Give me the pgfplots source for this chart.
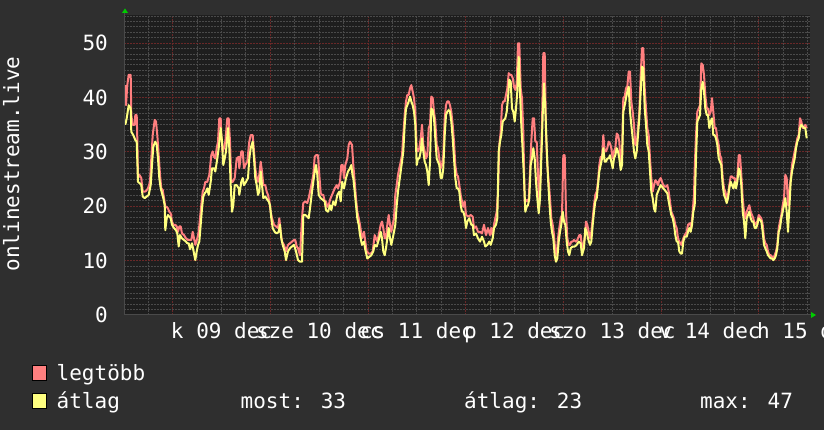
\documentclass[border=0pt]{standalone}
\usepackage{fontspec}
\usepackage{pgfplots}
\pgfplotsset{compat=1.18}
\newfontfamily\mono{DejaVu Sans Mono}
\definecolor{bg}{HTML}{2F2F2F}
\definecolor{canvas}{HTML}{1E1E1E}
\definecolor{mingrid}{HTML}{4A4A4A}
\definecolor{majgrid}{HTML}{6A2828}
\definecolor{axisc}{HTML}{4A4A4A}
\definecolor{maxc}{HTML}{FF7F7F}
\definecolor{avgc}{HTML}{FFFF80}
\definecolor{arrowc}{HTML}{00CC00}
\newcommand{\tickfont}{\mono\fontsize{21}{24}\selectfont}
\begin{document}
\begin{tikzpicture}[x=1pt,y=1pt]
\path[use as bounding box] (0,0) rectangle (824,430);
\fill[bg] (0,0) rectangle (824,430);
\begin{axis}[
  at={(124pt,115pt)}, anchor=south west,
  width=686pt, height=300pt, scale only axis,
  xmin=0, xmax=686, ymin=0, ymax=55.2,
  axis background/.style={fill=canvas},
  axis line style={draw=none},
  grid=both,
  major grid style={draw=majgrid, dash pattern=on 1.5pt off 1.5pt, line width=1pt},
  minor grid style={draw=mingrid, dash pattern=on 1.5pt off 1.5pt, line width=1pt},
  xtick={48.7,146.4,244.1,341.8,439.5,537.2,634.9},
  xticklabels={},
  minor xtick={24.275,48.7,73.125,97.55,121.975,146.4,170.825,195.25,219.675,244.1,268.525,292.95,317.375,341.8,366.225,390.65,415.075,439.5,463.925,488.35,512.775,537.2,561.625,586.05,610.475,634.9,659.325,683.75},
  extra x ticks={97.55,195.25,292.95,390.65,488.35,586.05,683.75},
  extra x tick labels={k 09 dec,sze 10 dec,cs 11 dec,p 12 dec,szo 13 dec,v 14 dec,h 15 dec},
  extra x tick style={grid=none},
  ytick={0,10,20,30,40,50},
  minor ytick={0,1,...,55},
  major tick length=0pt, minor tick length=0pt,
  /pgf/number format/assume math mode=true,
  xticklabel style={font=\tickfont, text=white, anchor=base, inner sep=0pt, yshift=-23.3pt},
  yticklabel style={font=\tickfont, text=white, anchor=east, inner sep=0pt, xshift=-16pt},
]
\addplot[maxc, line width=2pt, line join=round] coordinates {
(1.3,42.3)(2.0,38.6)(3.3,42.3)(4.7,44.2)(6.7,44.2)(7.3,36.8)(8.7,35.0)(10.7,35.0)(11.3,36.8)(12.7,36.8)(13.3,32.5)(14.0,25.2)(15.3,25.8)(17.3,25.2)(18.7,22.7)(20.7,22.7)(22.0,22.8)(24.0,23.3)(26.0,24.5)(27.3,28.8)(28.7,33.1)(30.7,35.9)(32.0,35.6)(33.3,33.1)(34.7,29.4)(36.0,25.8)(37.3,23.3)(38.7,23.0)(40.0,21.5)(41.3,19.9)(42.7,19.9)(44.0,19.6)(45.3,19.0)(46.7,18.7)(48.0,17.2)(49.3,16.6)(51.3,16.6)(52.7,16.3)(54.0,15.3)(55.3,16.3)(56.7,16.3)(58.0,15.0)(60.0,14.7)(62.0,14.1)(64.0,13.8)(66.0,13.8)(67.3,13.8)(68.7,15.3)(70.0,14.1)(71.3,12.9)(73.3,14.1)(74.7,15.3)(76.0,17.8)(77.3,20.2)(78.7,22.7)(80.0,23.3)(81.3,24.5)(83.3,24.5)(85.3,25.8)(87.3,29.4)(88.7,30.1)(90.0,29.1)(91.3,28.8)(92.7,30.7)(94.0,31.9)(95.3,36.2)(96.7,36.2)(97.3,33.1)(98.7,30.1)(100.0,30.7)(101.3,31.9)(103.3,36.2)(104.7,36.2)(106.0,31.9)(107.3,24.5)(108.7,24.5)(110.7,25.2)(112.7,28.8)(114.7,29.1)
(115.3,27.0)(117.3,30.1)(118.7,30.1)(120.0,27.0)(121.3,27.6)(123.3,28.2)(125.3,31.9)(126.7,33.1)(128.7,33.1)(130.0,30.1)(131.3,27.0)(132.7,25.2)(134.0,24.5)(135.3,25.8)(136.7,28.2)(138.0,26.4)(139.3,23.9)(141.3,23.9)(142.7,22.7)(144.0,22.1)(145.3,20.9)(146.7,19.0)(148.0,17.8)(150.0,16.6)(152.0,16.3)(154.0,16.0)(155.3,17.8)(156.7,15.3)(158.0,13.5)(160.0,12.9)(162.0,11.7)(164.0,12.9)(166.0,13.2)(168.0,13.5)(170.0,13.8)(171.3,13.8)(172.7,12.6)(174.0,12.3)(176.0,11.0)(178.0,17.8)(179.3,20.6)(181.3,20.9)(183.3,20.6)(184.7,21.5)(186.7,23.3)(188.0,24.5)(189.3,25.8)(190.7,29.1)(192.0,29.4)(194.0,29.4)(195.3,25.8)(196.7,22.4)(198.0,22.1)(199.3,22.1)(200.7,20.9)(202.0,20.9)(203.3,19.9)(204.7,20.2)(206.0,21.2)(207.3,21.8)(208.7,22.4)(210.7,23.3)(212.7,23.9)(214.0,23.3)(216.0,24.5)(217.3,27.6)(218.7,27.6)(220.0,25.2)(221.3,27.6)(223.3,28.8)(224.7,31.3)(226.0,31.9)(228.0,31.3)
(229.3,27.6)(230.7,24.5)(232.0,21.5)(233.3,19.0)(234.7,17.8)(236.0,16.6)(238.0,14.1)(240.0,15.3)(241.3,13.5)(242.7,11.7)(244.7,11.3)(246.7,11.3)(248.7,11.7)(250.7,14.7)(252.0,14.1)(253.3,13.5)(255.3,15.3)(256.7,16.6)(258.0,17.2)(259.3,16.0)(260.7,14.1)(262.0,14.1)(263.3,16.6)(264.7,18.4)(266.0,16.6)(267.3,15.3)(268.7,16.6)(270.0,17.8)(271.3,22.1)(272.7,23.9)(274.0,25.8)(275.3,27.0)(276.7,28.2)(278.0,29.4)(279.3,33.1)(280.7,36.8)(282.0,39.3)(283.3,40.5)(284.7,40.5)(286.0,41.7)(287.3,42.3)(288.7,41.1)(290.0,39.9)(291.3,37.4)(292.7,30.7)(294.0,30.1)(295.3,30.7)(296.7,32.5)(298.0,35.0)(299.3,31.3)(300.7,30.1)(302.0,28.8)(303.3,29.4)(304.7,34.4)(306.0,35.0)(307.3,40.2)(308.7,39.9)(310.0,37.4)(311.3,35.6)(312.7,31.3)(314.0,30.7)(315.3,28.8)(316.7,27.0)(318.0,27.6)(319.3,29.4)(320.7,36.2)(322.0,38.6)(323.3,39.3)(324.7,39.3)(326.0,38.6)(327.3,37.4)(328.7,35.0)(330.0,31.9)(331.3,27.6)(332.7,25.8)(334.0,25.5)(335.3,23.9)(336.7,22.1)(338.0,20.9)(339.3,19.9)(340.7,20.9)(342.0,18.4)
(344.7,18.1)(346.7,18.4)(348.7,18.1)(350.0,16.0)(352.0,16.3)(354.0,15.3)(356.0,15.3)(358.0,15.0)(360.0,16.6)(362.0,14.7)(364.0,16.0)(366.0,14.7)(367.3,16.0)(368.7,14.7)(370.0,16.6)(371.3,17.8)(372.7,19.0)(374.0,22.7)(375.3,31.3)(376.7,33.7)(378.0,38.6)(379.3,39.3)(380.7,39.3)(382.0,40.5)(383.3,41.7)(384.7,44.5)(386.0,44.2)(387.3,44.2)(388.7,43.6)(390.0,42.0)(391.3,41.4)(392.7,42.6)(394.0,50.0)(395.3,50.0)(396.7,41.7)(398.0,39.9)(399.3,33.7)(400.7,20.9)(402.0,20.9)(403.3,21.2)(404.7,20.9)(406.0,26.4)(407.3,31.9)(408.7,36.2)(410.0,36.2)(411.3,31.9)(412.7,31.9)(414.0,25.8)(415.3,20.2)(416.7,27.6)(418.0,35.0)(419.3,48.2)(420.7,48.2)(422.0,33.7)(423.3,27.6)(424.7,24.5)(426.0,21.5)(427.3,17.8)(428.7,16.6)(430.0,14.7)(431.3,11.7)(432.7,11.0)(434.0,14.1)(435.3,16.0)(436.7,17.8)(438.0,18.4)(439.3,29.4)(440.7,29.4)(442.0,19.0)(443.3,14.1)(444.7,12.9)(446.0,12.9)(447.3,13.5)(448.7,13.5)(450.0,13.8)(452.0,13.5)(453.3,13.8)(455.3,14.7)(456.7,14.7)
(458.0,12.3)(459.3,12.9)(460.7,14.1)(462.0,17.2)(463.3,16.6)(464.7,15.3)(466.0,14.1)(467.3,15.3)(468.7,17.8)(470.0,20.2)(471.3,22.1)(472.7,22.7)(474.0,24.5)(475.3,27.6)(476.7,29.1)(478.0,28.8)(479.3,33.1)(480.7,30.1)(482.0,30.1)(483.3,30.7)(484.7,31.9)(486.0,31.6)(487.3,30.7)(488.7,28.8)(490.0,30.1)(491.3,30.7)(492.7,33.4)(494.0,33.1)(495.3,31.9)(496.7,27.6)(498.0,29.4)(499.3,39.9)(500.7,40.2)(502.0,41.7)(503.3,42.0)(504.7,44.8)(506.0,44.8)(507.3,39.3)(508.7,37.4)(510.0,35.0)(511.3,31.3)(512.7,31.3)(514.0,34.4)(515.3,37.4)(516.7,44.2)(518.0,49.1)(519.3,49.1)(520.7,41.7)(522.0,38.0)(523.3,34.4)(524.7,33.1)(526.0,28.8)(527.3,25.2)(528.7,22.7)(530.0,23.9)(531.3,24.8)(532.7,24.5)(534.0,23.9)(535.3,24.8)(536.7,25.2)(538.0,24.5)(539.3,23.9)(540.7,23.6)(542.0,23.6)(543.3,23.9)(544.7,22.7)(546.0,20.9)(547.3,19.0)(548.7,18.4)(550.0,17.8)(551.3,16.6)(552.7,16.0)(554.0,14.1)(555.3,13.5)(557.3,12.9)(559.3,14.1)(560.7,14.7)(562.7,15.3)(564.0,16.6)(566.0,16.9)(567.3,16.0)(568.7,19.0)(570.0,22.1)(570.7,27.0)
(572.0,33.1)(573.3,37.4)(574.7,38.0)(576.0,38.6)(577.3,46.3)(578.7,46.0)(580.0,44.2)(581.3,40.5)(582.7,38.0)(584.0,38.0)(585.3,36.8)(586.7,37.4)(588.0,39.9)(589.3,37.4)(590.7,34.4)(592.0,34.4)(593.3,32.5)(594.7,31.3)(596.0,29.4)(597.3,28.8)(598.7,25.2)(600.0,23.3)(601.3,22.7)(602.7,21.5)(604.0,22.1)(605.3,23.9)(606.7,25.5)(608.0,25.5)(609.3,25.2)(610.7,25.2)(612.0,23.9)(613.3,25.2)(614.7,29.4)(616.0,29.4)(617.3,25.8)(618.7,21.5)(620.0,19.0)(621.3,17.8)(622.7,19.0)(624.0,19.6)(625.3,20.2)(626.7,19.0)(628.0,18.4)(629.3,17.8)(630.7,16.6)(632.0,16.9)(633.3,17.2)(634.7,18.4)(636.0,18.1)(637.3,17.8)(638.7,16.6)(640.0,14.1)(641.3,13.2)(642.7,12.9)(644.0,11.7)(645.3,11.0)(646.7,11.0)(648.0,10.7)(649.3,10.4)(650.7,11.0)(652.0,11.7)(653.3,12.9)(654.7,16.0)(656.0,17.2)(657.3,18.4)(658.7,20.2)(660.0,21.5)(661.3,25.8)(662.7,25.2)(664.0,20.2)(665.3,22.7)(666.7,25.2)(668.0,27.6)(669.3,28.8)(670.7,30.1)(672.0,31.3)(673.3,32.5)(674.7,33.1)(676.0,36.2)(677.3,35.6)(678.7,34.4)(680.0,34.4)(681.3,35.0)(682.7,34.4)
};
\addplot[avgc, line width=2pt, line join=round] coordinates {
(1.3,35.0)(2.7,36.2)(4.7,38.6)(6.7,38.0)(7.3,33.7)(9.3,33.1)(11.3,32.2)(12.7,31.9)(14.0,24.5)(16.0,24.2)(17.3,23.9)(18.7,21.8)(20.7,21.5)(22.7,21.8)(24.7,22.1)(26.7,23.9)(28.0,27.6)(29.3,31.0)(31.3,31.9)(32.7,31.3)(34.0,28.8)(35.3,25.2)(36.7,23.3)(38.0,22.4)(39.3,21.5)(40.7,20.2)(41.3,15.6)(42.7,17.8)(44.0,18.4)(45.3,18.1)(46.7,17.8)(48.0,16.6)(50.0,16.0)(52.0,15.6)(53.3,15.0)(54.7,12.6)(56.0,14.7)(58.0,14.1)(60.0,13.8)(62.0,13.5)(63.3,13.2)(64.7,13.2)(66.0,12.1)(68.0,13.2)(69.3,12.0)(71.3,10.1)(72.7,11.7)(74.0,12.9)(75.3,13.5)(76.7,16.6)(78.0,19.6)(79.3,21.8)(80.7,22.4)(82.0,22.7)(83.3,23.3)(84.7,22.1)(86.7,24.5)(88.0,27.0)(90.0,27.0)(91.3,26.4)(93.3,28.8)(94.7,30.7)(96.7,34.4)(98.0,31.9)(99.3,27.6)(100.7,28.8)(102.0,30.1)(104.0,34.4)(105.3,30.7)(106.7,23.9)(108.0,19.0)(109.3,20.2)(110.7,23.9)(112.7,23.9)(114.7,23.3)
(115.3,22.1)(117.3,24.5)(118.7,25.2)(120.0,23.9)(122.0,24.5)(124.0,25.2)(125.3,28.8)(126.7,30.7)(128.7,31.9)(130.0,28.8)(131.3,25.2)(132.7,23.9)(134.0,22.1)(135.3,22.7)(136.7,26.4)(138.0,23.9)(139.3,21.5)(141.3,21.8)(143.3,21.2)(144.7,20.9)(146.0,20.2)(147.3,17.8)(148.7,16.0)(150.7,15.3)(152.7,15.0)(154.7,15.3)(156.0,16.6)(157.3,14.1)(158.7,12.9)(160.7,11.7)(162.0,10.1)(164.0,11.7)(166.0,12.3)(168.0,12.6)(170.0,12.9)(172.0,11.7)(174.0,10.1)(176.0,9.8)(178.0,9.8)(179.3,18.4)(181.3,18.4)(183.3,18.1)(184.7,17.8)(186.0,19.6)(188.0,22.7)(189.3,24.5)(190.7,26.4)(192.0,27.6)(193.3,25.8)(194.7,22.1)(196.7,21.5)(198.7,21.2)(200.7,20.9)(202.0,19.3)(204.0,19.0)(206.0,20.2)(207.3,19.3)(209.3,20.9)(211.3,20.2)(213.3,22.1)(215.3,22.7)(216.7,20.9)(218.0,24.5)(220.0,23.3)(222.0,25.2)(224.0,26.4)(226.0,27.0)(227.3,27.6)(228.7,25.5)
(229.3,25.2)(230.7,22.7)(232.0,20.2)(233.3,17.8)(234.7,16.6)(236.0,14.7)(238.0,12.9)(240.0,13.5)(241.3,12.0)(243.3,10.4)(245.3,10.7)(247.3,11.0)(249.3,11.7)(250.7,12.9)(252.7,12.6)(254.7,13.8)(256.7,15.3)(258.0,14.1)(259.3,11.7)(260.7,11.0)(262.0,12.3)(263.3,14.1)(264.7,16.0)(266.0,14.1)(267.3,12.9)(268.7,14.1)(270.0,15.3)(271.3,16.6)(272.7,20.2)(274.0,22.7)(275.3,24.5)(276.7,26.4)(278.0,28.2)(279.3,30.1)(280.7,35.0)(282.0,38.0)(283.3,38.6)(284.7,39.3)(286.0,40.2)(287.3,39.3)(288.7,38.6)(290.0,37.4)(291.3,35.0)(292.7,27.6)(294.0,28.8)(295.3,28.8)(296.7,30.1)(298.0,32.5)(299.3,30.1)(300.7,28.2)(302.0,27.6)(303.3,26.4)(304.7,23.9)(306.0,28.2)(307.3,38.0)(308.7,37.7)(310.0,36.2)(311.3,32.5)(312.7,28.8)(314.0,28.2)(315.3,27.6)(316.7,25.2)(318.0,25.2)(319.3,27.0)(320.7,33.1)(322.0,36.8)(323.3,37.4)(324.7,37.7)(326.0,37.4)(327.3,35.6)(328.7,32.5)(330.0,28.8)(331.3,25.2)(332.7,23.3)(334.0,23.3)(335.3,22.7)(336.7,20.2)(338.0,19.0)(339.3,19.0)(340.7,18.1)(342.0,16.0)
(343.3,17.2)(345.3,17.8)(347.3,16.6)(348.7,16.6)(350.0,14.7)(352.0,15.0)(354.0,14.1)(356.0,13.5)(358.0,14.4)(360.0,13.5)(361.3,12.6)(363.3,12.9)(365.3,13.5)(366.7,12.9)(368.7,14.1)(370.0,16.0)(372.0,16.6)(373.3,17.8)(374.7,30.1)(376.0,31.9)(377.3,33.1)(378.7,35.6)(380.0,35.9)(381.3,36.2)(382.7,37.4)(384.0,39.9)(385.3,43.3)(386.7,42.9)(388.0,38.0)(389.3,37.4)(390.7,35.6)(392.0,38.0)(393.3,41.1)(394.7,47.5)(396.0,41.1)(397.3,35.0)(398.7,30.1)(400.0,25.2)(401.3,19.0)(402.7,19.9)(404.0,20.2)(405.3,21.5)(406.7,27.6)(408.0,28.8)(409.3,30.7)(410.7,28.8)(412.0,24.5)(413.3,21.5)(414.7,18.7)(416.0,21.5)(417.3,28.8)(418.7,36.8)(420.0,42.6)(421.3,38.0)(422.7,30.7)(424.0,25.2)(425.3,20.9)(426.7,17.2)(428.0,15.3)(429.3,14.1)(430.7,11.0)(432.0,9.8)(433.3,10.4)(434.7,13.5)(436.0,15.3)(437.3,16.6)(438.7,19.0)(440.0,17.2)(441.3,16.6)(442.7,13.5)(444.0,11.7)(445.3,11.0)(446.7,12.3)(448.7,12.6)(450.7,12.6)(452.7,12.9)(454.7,13.5)(456.7,13.2)
(458.0,11.0)(460.0,12.3)(461.3,16.0)(462.7,15.3)(464.0,14.1)(466.0,12.9)(467.3,13.5)(468.7,16.6)(470.0,19.0)(471.3,20.9)(472.7,21.5)(474.0,23.9)(475.3,26.4)(476.7,27.6)(478.0,28.8)(479.3,30.7)(480.7,28.2)(482.0,28.2)(483.3,28.8)(484.7,28.8)(486.0,29.4)(487.3,28.2)(488.7,27.0)(490.0,28.8)(491.3,29.4)(492.7,30.7)(494.0,30.1)(495.3,28.8)(496.7,26.7)(498.0,27.6)(499.3,37.4)(500.7,38.6)(502.0,39.9)(503.3,41.1)(504.7,42.0)(506.0,37.4)(507.3,35.0)(508.7,32.5)(510.0,30.1)(511.3,28.8)(512.7,30.1)(514.0,33.1)(515.3,36.2)(516.7,41.1)(518.0,45.7)(519.3,45.4)(520.7,38.0)(522.0,35.0)(523.3,31.3)(524.7,30.1)(526.0,26.4)(527.3,22.7)(528.7,21.5)(530.0,19.6)(531.3,19.0)(532.7,22.1)(534.0,22.7)(535.3,23.3)(536.7,23.9)(538.0,23.6)(539.3,23.3)(540.7,23.0)(542.0,22.7)(543.3,22.4)(544.7,20.9)(546.0,19.6)(547.3,18.4)(548.7,17.8)(550.0,16.6)(551.3,14.7)(552.7,13.5)(554.0,13.5)(555.3,11.7)(556.7,11.3)(558.0,11.3)(559.3,13.5)(560.7,14.4)(562.7,14.4)(564.0,15.3)(565.3,16.0)(566.7,15.3)(568.0,16.6)(569.3,19.0)(570.7,20.2)
(572.0,28.8)(573.3,35.6)(574.7,36.2)(576.0,36.8)(577.3,41.7)(578.7,42.9)(580.0,41.1)(581.3,38.0)(582.7,36.8)(584.0,36.8)(585.3,34.4)(586.7,35.6)(588.0,36.2)(589.3,33.1)(590.7,33.1)(592.0,32.5)(593.3,31.3)(594.7,28.8)(596.0,28.2)(597.3,27.6)(598.7,23.9)(600.0,22.1)(601.3,21.5)(602.7,20.6)(604.0,21.5)(605.3,23.3)(606.7,24.5)(608.0,23.9)(609.3,23.3)(610.7,24.5)(612.0,23.3)(613.3,24.5)(614.7,27.0)(616.0,26.4)(617.3,23.9)(618.7,19.0)(620.0,17.2)(621.3,14.1)(622.7,17.8)(624.0,18.4)(625.3,19.0)(626.7,17.8)(628.0,17.2)(629.3,17.2)(630.7,16.0)(632.0,16.0)(633.3,16.6)(634.7,17.8)(636.0,17.5)(637.3,17.2)(638.7,15.3)(640.0,12.9)(641.3,12.3)(642.7,11.7)(644.0,11.0)(645.3,10.7)(646.7,10.4)(648.0,10.4)(649.3,10.1)(650.7,10.4)(652.0,11.0)(653.3,12.3)(654.7,15.3)(656.0,16.0)(657.3,17.8)(658.7,19.0)(660.0,20.2)(661.3,21.5)(662.7,19.0)(664.0,15.3)(665.3,19.6)(666.7,24.5)(668.0,26.4)(669.3,27.6)(670.7,28.8)(672.0,30.7)(673.3,31.9)(674.7,32.5)(676.0,34.4)(677.3,35.0)(678.7,34.7)(680.0,34.4)(681.3,34.4)(682.7,32.5)
};
\end{axis}
\draw[axisc, line width=1pt] (124,115) -- (811,115);
\draw[axisc, line width=1pt] (124,115) -- (124,417);
\fill[arrowc] (122,417) -- (128,417) -- (125,421.5) -- cycle;
\fill[arrowc] (811,112) -- (811,118) -- (816,115) -- cycle;
\node[rotate=90, anchor=base, inner sep=0pt, text=white, font=\tickfont] at (19,266) {onlinestream.live};
\filldraw[fill=maxc, draw=black, line width=1pt] (32.5,49.5) rectangle (46.5,64.5);
\filldraw[fill=avgc, draw=black, line width=1pt] (32.5,21.5) rectangle (46.5,36.5);
\node[anchor=base west, inner sep=0pt, text=white, font=\tickfont] at (56.5,49) {legtöbb};
\node[anchor=base west, inner sep=0pt, text=white, font=\tickfont] at (56.5,21) {átlag};
\node[anchor=base west, inner sep=0pt, text=white, font=\tickfont] at (240.5,21) {most: 33};
\node[anchor=base west, inner sep=0pt, text=white, font=\tickfont] at (464,21) {átlag: 23};
\node[anchor=base west, inner sep=0pt, text=white, font=\tickfont] at (700,21) {max: 47};
\end{tikzpicture}
\end{document}
